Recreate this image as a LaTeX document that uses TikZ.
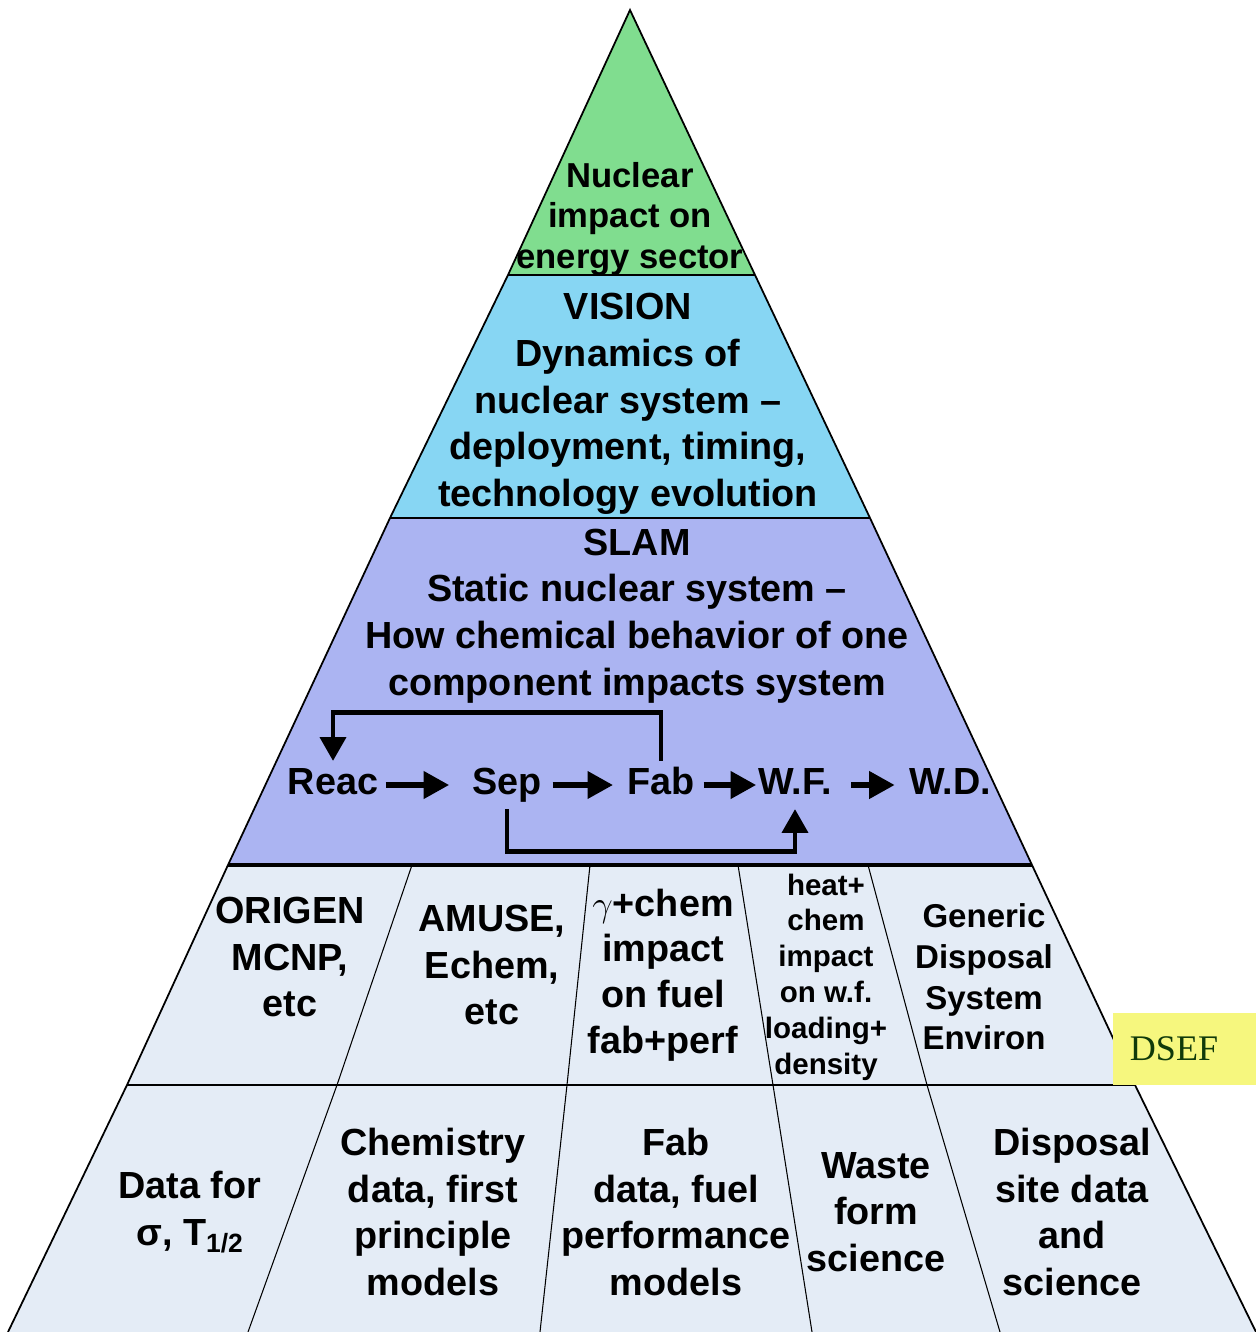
\documentclass[tikz,border=0pt]{standalone}
\usepackage{fontspec}
\setmainfont{Liberation Sans}
\newfontfamily\dseffont{Liberation Serif}
\usetikzlibrary{arrows.meta}

\definecolor{topgreen}{RGB}{128,221,143}
\definecolor{visionblue}{RGB}{135,214,243}
\definecolor{slamblue}{RGB}{171,180,242}
\definecolor{cellblue}{RGB}{228,236,246}
\definecolor{dsefyellow}{RGB}{246,247,126}
\definecolor{dsefgreen}{RGB}{16,58,10}

\begin{document}
\begin{tikzpicture}[x=0.02cm,y=-0.02cm,
    tier/.style={draw=black,line width=1pt},
    split/.style={draw=black,line width=0.6pt},
    txt/.style={align=center,inner sep=0pt,font=\bfseries\fontsize{21.5}{26.6}\selectfont},
    smalltxt/.style={align=center,inner sep=0pt,font=\bfseries\fontsize{16.8}{20.4}\selectfont},
    midtxt/.style={align=center,inner sep=0pt,font=\bfseries\fontsize{18.8}{23.2}\selectfont},
    flowtext/.style={inner sep=4pt,text height=15pt,text depth=4pt,font=\bfseries\fontsize{21.5}{26.6}\selectfont},
    flow/.style={-{Triangle[length=14.5pt,width=15pt]},line width=3.3pt},
    backflow/.style={-{Triangle[length=13.5pt,width=14.5pt]},line width=2.8pt}]
  \useasboundingbox (0,0) rectangle (1256,1332);
  \fill[topgreen] (630,10) -- (755,275) -- (508,275) -- cycle;
  \fill[visionblue] (508,275) -- (755,275) -- (870,518) -- (390,518) -- cycle;
  \fill[slamblue] (390,518) -- (870,518) -- (1032,865) -- (228,865) -- cycle;
  \fill[cellblue] (228,865) -- (1032,865) -- (1135,1085) -- (127,1085) -- cycle;
  \fill[cellblue] (127,1085) -- (1135,1085) -- (1256,1332) -- (8,1332) -- cycle;
  \draw[tier] (8,1332) -- (127,1085) -- (228,865) -- (390,518) -- (508,275) -- (630,10)
    -- (755,275) -- (870,518) -- (1032,865) -- (1135,1085) -- (1256,1332);
  \draw[tier] (508,275) -- (755,275);
  \draw[tier] (390,518) -- (870,518);
  \draw[draw=black,line width=1.8pt] (228,865) -- (1032,865);
  \draw[split] (127,1085) -- (1135,1085);
  \draw[split] (412,865) -- (337,1085) -- (248,1332);
  \draw[split] (590,865) -- (567,1085) -- (540,1332);
  \draw[split] (738,865) -- (773,1085) -- (812,1332);
  \draw[split] (868,865) -- (927,1085) -- (1000,1332);

  \node[txt,font=\bfseries\fontsize{19.7}{23.2}\selectfont] (nuclear) at (630,219) {Nuclear\\impact on\\energy sector};
  \node[txt] (vision) at (628,404) {VISION\\Dynamics of\\nuclear system --\\deployment, timing,\\technology evolution};
  \node[txt] (slam) at (637,616) {SLAM\\Static nuclear system --\\How chemical behavior of one\\component impacts system};

  \node[flowtext] (reac) at (333,785) {Reac};
  \node[flowtext] (sep) at (507,785) {Sep};
  \node[flowtext] (fab) at (661,785) {Fab};
  \node[flowtext] (wf) at (795,785) {W.F.};
  \node[flowtext] (wd) at (950,785) {W.D.};
  \draw[flow,shorten >=9pt] (reac) -- (sep);
  \draw[flow,shorten <=2pt,shorten >=4pt] (sep) -- (fab);
  \draw[flow,shorten <=1pt,shorten >=-3pt] (fab) -- (wf);
  \draw[flow,shorten <=7pt,shorten >=4pt] (wf) -- (wd);
  \draw[backflow] (fab.north) -- ++(0,-48) -| (reac.north);
  \draw[backflow] (sep.south) -- ++(0,42) -| (wf.south);

  \node[txt] (origen) at (290,957) {ORIGEN\\MCNP,\\etc};
  \node[txt] (amuse) at (492,965) {AMUSE,\\Echem,\\etc};
  \node[txt,font=\bfseries\fontsize{21.5}{26}\selectfont] (gamma) at (663,975) {$\gamma$+chem\\impact\\on fuel\\fab+perf};
  \node[smalltxt] (heat) at (826,977) {heat+\\chem\\impact\\on w.f.\\loading+\\density};
  \node[midtxt] (generic) at (984,977) {Generic\\Disposal\\System\\Environ};

  \node[txt] (datafor) at (190,1212) {Data for\\σ, T\textsubscript{1/2}};
  \node[txt] (chemistry) at (433,1212) {Chemistry\\data, first\\principle\\models};
  \node[txt] (fabdata) at (676,1212) {Fab\\data, fuel\\performance\\models};
  \node[txt] (waste) at (876,1212) {Waste\\form\\science};
  \node[txt] (disposal) at (1072,1212) {Disposal\\site data\\and\\science};

  \fill[dsefyellow] (1113,1013) rectangle (1256,1085);
  \node[text=dsefgreen,font=\dseffont\fontsize{20.5}{22}\selectfont] (dsef) at (1174,1049) {DSEF};
\end{tikzpicture}
\end{document}
